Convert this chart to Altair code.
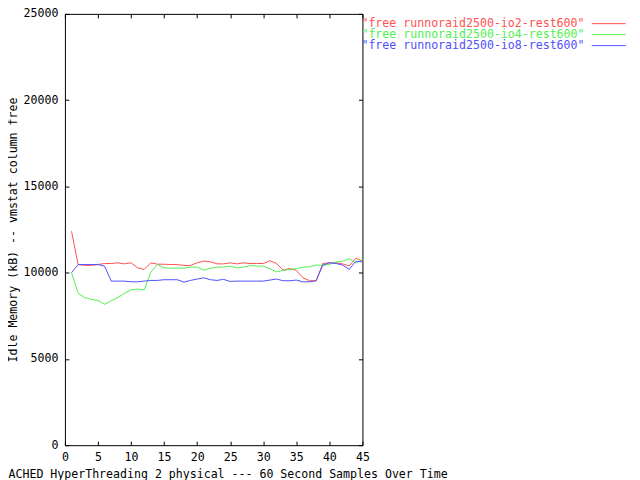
import altair as alt
import pandas as pd

# ---- data ----
x_vals = list(range(1, 46))
red_vals = [12400, 10470, 10420, 10420, 10470, 10530, 10530, 10570, 10510, 10570,
            10280, 10185, 10570, 10490, 10490, 10470, 10470, 10420, 10420, 10570,
            10670, 10630, 10510, 10510, 10570, 10510, 10570, 10530, 10530, 10530,
            10690, 10530, 10150, 10240, 10130, 9700, 9530, 9530, 10530, 10570,
            10570, 10510, 10390, 10840, 10670]
green_vals = [10000, 8800, 8550, 8450, 8390, 8160, 8370, 8550, 8800, 9000,
              9050, 9000, 10030, 10470, 10280, 10260, 10260, 10260, 10320, 10320,
              10150, 10250, 10320, 10320, 10380, 10280, 10320, 10420, 10380, 10380,
              10230, 10050, 10130, 10190, 10230, 10320, 10340, 10440, 10420, 10480,
              10620, 10660, 10810, 10560, 10750]
blue_vals = [10000, 10470, 10470, 10470, 10470, 10380, 9510, 9510, 9510, 9470,
             9470, 9510, 9550, 9550, 9590, 9590, 9590, 9450, 9550, 9630,
             9700, 9590, 9550, 9610, 9490, 9510, 9510, 9510, 9510, 9510,
             9570, 9630, 9530, 9530, 9570, 9470, 9470, 9530, 10430, 10570,
             10530, 10440, 10190, 10660, 10630]
series_names = ["free runnoraid2500-io2-rest600",
                "free runnoraid2500-io4-rest600",
                "free runnoraid2500-io8-rest600"]
series_colors = ["#ff5050", "#50f050", "#5050ff"]
x_ticks = [0, 5, 10, 15, 20, 25, 30, 35, 40, 45]
y_ticks = [0, 5000, 10000, 15000, 20000, 25000]
x_title = "ACHED HyperThreading 2 physical --- 60 Second Samples Over Time"
y_title = "Idle Memory (kB) -- vmstat column free"

rows = []
for name, vals in zip(series_names, [red_vals, green_vals, blue_vals]):
    for xv, yv in zip(x_vals, vals):
        rows.append({"x": xv, "y": yv, "series": name})
df = pd.DataFrame(rows)
legend_df = pd.DataFrame({"series": series_names,
                          "label": ['"' + s + '"' for s in series_names]})

FONT = "DejaVu Sans Mono"
FS = 11.6

color_scale = alt.Scale(domain=series_names, range=series_colors)
xscale = alt.Scale(domain=[0, 45], nice=False, zero=False)
yscale = alt.Scale(domain=[0, 25000], nice=False)

lines = alt.Chart(df).mark_line(strokeWidth=1).encode(
    x=alt.X("x:Q", scale=xscale,
            axis=alt.Axis(values=x_ticks, orient="bottom", offset=-4, tickSize=4,
                          domain=False, grid=False, labelPadding=6, format="d",
                          labelFlush=False, labelOverlap=False,
                          title=x_title, titleX=-57, titleY=33,
                          titleAlign="left", titleBaseline="middle",
                          titleFont=FONT, titleFontSize=FS, titleFontWeight="normal")),
    y=alt.Y("y:Q", scale=yscale,
            axis=alt.Axis(values=y_ticks, orient="left", offset=-4, tickSize=4,
                          domain=False, grid=False, labelPadding=7, format="d",
                          labelFlush=False, labelOverlap=False,
                          title=y_title, titleX=-55, titleY=216,
                          titleAlign="center", titleBaseline="middle",
                          titleFont=FONT, titleFontSize=FS, titleFontWeight="normal")),
    color=alt.Color("series:N", scale=color_scale, legend=None),
)

mirror = alt.Chart(df).mark_point(opacity=0).encode(
    x=alt.X("x:Q", scale=xscale,
            axis=alt.Axis(values=x_ticks, orient="top", offset=-4, tickSize=4,
                          domain=False, grid=False, labels=False, title=None)),
    y=alt.Y("y:Q", scale=yscale,
            axis=alt.Axis(values=y_ticks, orient="right", offset=-4, tickSize=4,
                          domain=False, grid=False, labels=False, title=None)),
)

legend_y = alt.Y("series:N",
                 scale=alt.Scale(type="point", domain=series_names,
                                 range=[9.8, 31.8], padding=0),
                 axis=None)

leg_text = alt.Chart(legend_df).mark_text(
    align="left", baseline="middle", font=FONT, fontSize=FS
).encode(
    x=alt.value(297),
    y=legend_y,
    text="label:N",
    color=alt.Color("series:N", scale=color_scale, legend=None),
)

leg_line = alt.Chart(legend_df).mark_rule(strokeWidth=1).encode(
    x=alt.value(527.7),
    x2=alt.value(561.7),
    y=legend_y,
    color=alt.Color("series:N", scale=color_scale, legend=None),
)

chart = alt.layer(lines, mirror, leg_text, leg_line).resolve_scale(
    y="independent"
).resolve_axis(
    x="independent", y="independent"
).properties(
    width=298, height=432,
    autosize=alt.AutoSizeParams(type="none"),
    padding={"left": 57, "top": 5.5, "right": 270, "bottom": 34},
    background="white",
).configure_view(
    stroke="black", strokeWidth=1
).configure_axis(
    labelFont=FONT, labelFontSize=FS, labelColor="black",
    tickColor="black", tickWidth=1, titleColor="black",
)

chart.save("out.html", embed_options={"renderer": "svg", "actions": False})
